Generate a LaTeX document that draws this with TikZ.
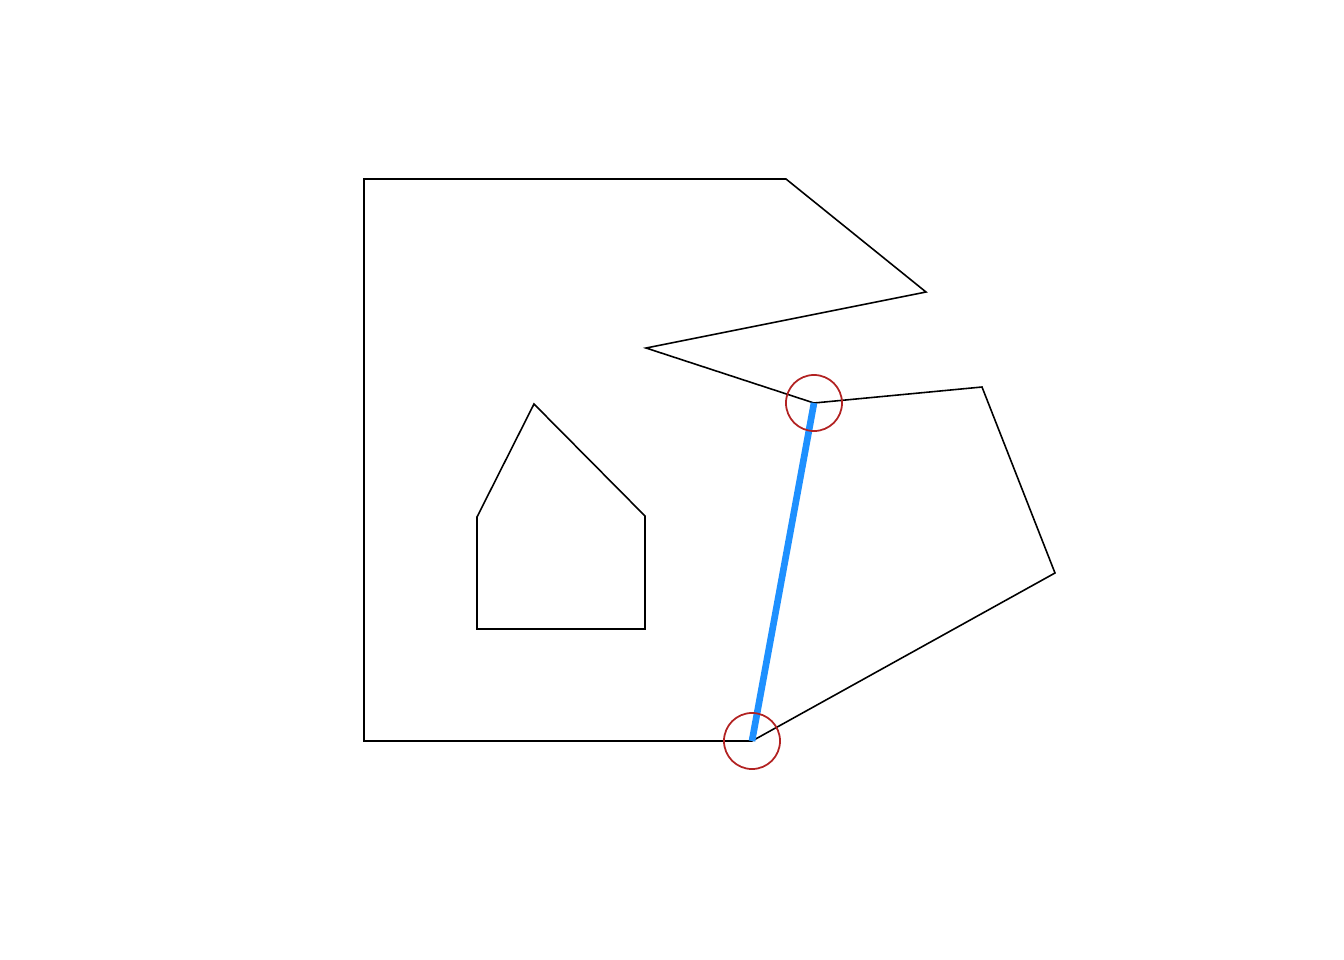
\documentclass[tikz,border=0pt]{standalone}
\usepackage{xcolor}
\usepackage{tikz}
\usetikzlibrary{calc}

\definecolor{dodger}{RGB}{30,144,255}
\definecolor{firebrick}{RGB}{178,34,34}

\begin{document}
\begin{tikzpicture}[x=0.01cm, y=-0.01cm,
    outline/.style={draw=black, line width=0.45pt, line join=miter},
    bridge/.style={draw=dodger, line width=1.9pt},
    mark ring/.style={draw=firebrick, line width=0.5pt}]
  \useasboundingbox (0,0) rectangle (1344,960);

  % outer polygon vertices
  \coordinate (p1) at (364,179);
  \coordinate (p2) at (786,179);
  \coordinate (p3) at (926,292);
  \coordinate (p4) at (646,348);
  \coordinate (p5) at (814,403);
  \coordinate (p6) at (982,387);
  \coordinate (p7) at (1055,573);
  \coordinate (p8) at (752,741);
  \coordinate (p9) at (364,741);
  \draw[outline] (p1) -- (p2) -- (p3) -- (p4) -- (p5) -- (p6) -- (p7) -- (p8) -- (p9) -- cycle;

  % hole
  \coordinate (h1) at (477,517);
  \coordinate (h2) at (534,404);
  \coordinate (h3) at (645,516);
  \coordinate (h4) at (645,629);
  \coordinate (h5) at (477,629);
  \draw[outline] (h1) -- (h2) -- (h3) -- (h4) -- (h5) -- cycle;

  % diagonal between the two marked vertices
  \draw[bridge] (p5) -- (p8);
  \draw[mark ring] (p5) circle (0.28cm);
  \draw[mark ring] (p8) circle (0.28cm);
\end{tikzpicture}
\end{document}
